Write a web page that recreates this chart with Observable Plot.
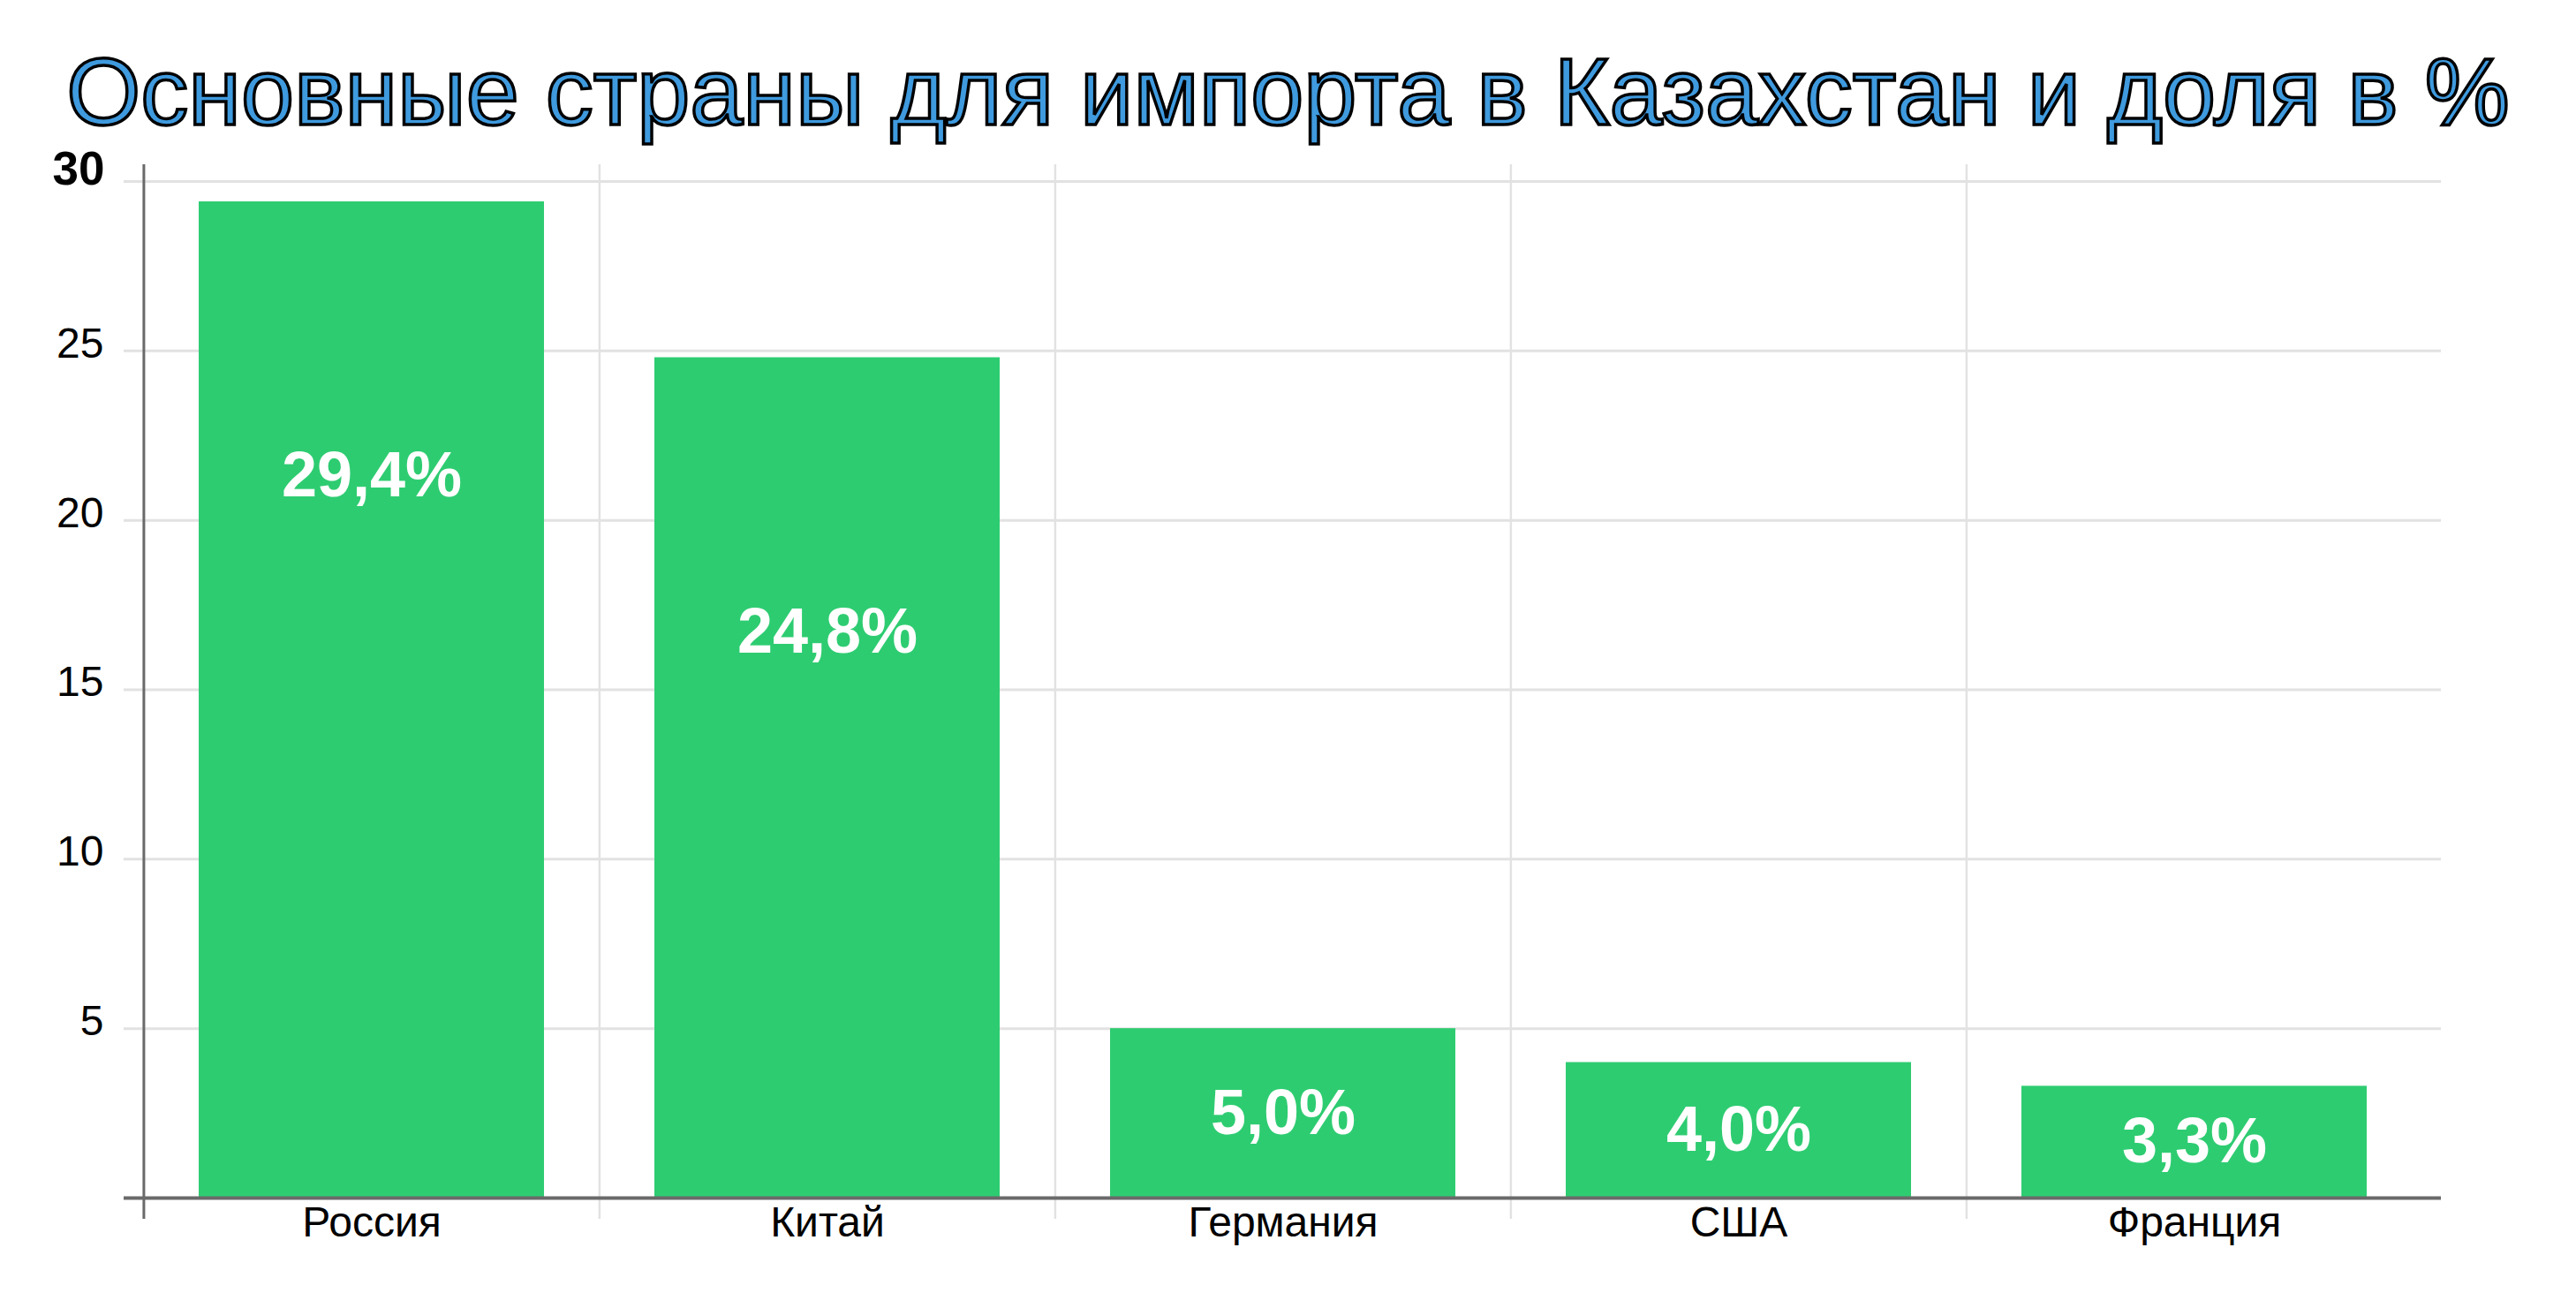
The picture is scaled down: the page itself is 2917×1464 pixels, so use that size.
<!DOCTYPE html>
<html>
<head>
<meta charset="utf-8">
<script src="https://cdn.jsdelivr.net/npm/d3@7"></script>
<script src="https://cdn.jsdelivr.net/npm/@observablehq/plot@0.6"></script>
<style>
  html, body { margin: 0; padding: 0; background: #fff; }
  body { width: 2917px; height: 1464px; overflow: hidden; position: relative; font-family: "Liberation Sans", Arial, sans-serif; }
  #title {
    position: absolute; left: 0; top: 50px; width: 2917px; margin: 0; z-index: 2;
    text-align: center; font-size: 108px; line-height: 108px; font-weight: normal;
    color: #3f9ade; -webkit-text-stroke: 3.5px #000; white-space: nowrap;
  }
  #chart { position: absolute; left: 0; top: 120px; z-index: 1; }
</style>
</head>
<body>
<h1 id="title">Основные страны для импорта в Казахстан и доля в %</h1>
<div id="chart"></div>
<script>
const countries = ["Россия", "Китай", "Германия", "США", "Франция"];
const shares = [29.4, 24.8, 5.0, 4.0, 3.3];
const yTicks = [5, 10, 15, 20, 25, 30];
const gridTicks = [0, 5, 10, 15, 20, 25, 30];

const data = countries.map((c, i) => ({country: c, value: shares[i]}));

const W = 2917, H = 1344;
const mL = 162, mR = 174, mT = 85, mB = 108;
const step = (W - mL - mR) / countries.length;

const chart = Plot.plot({
  width: W,
  height: H,
  marginLeft: mL,
  marginRight: mR,
  marginTop: mT,
  marginBottom: mB,
  style: {fontFamily: "Liberation Sans, Arial, sans-serif", fontSize: "48px", color: "#000", background: "transparent"},
  x: {type: "band", domain: countries, paddingInner: 0.243, paddingOuter: 0.1215, axis: null},
  y: {domain: [0, 30], axis: null},
  marks: [
    Plot.ruleY(gridTicks, {y: d => d, stroke: "#e2e2e2", strokeWidth: 3, insetLeft: -22, insetRight: -21}),
    Plot.ruleX(countries.slice(1), {x: d => d, dx: -step / 2, stroke: "#e2e2e2", strokeWidth: 2.5, insetTop: -19, insetBottom: -24}),
    Plot.barY(data, {x: "country", y: "value", fill: "#2ecc71"}),
    Plot.ruleX(countries.slice(0, 1), {x: d => d, dx: -step / 2, stroke: "#6a6a6a", strokeWidth: 3, insetTop: -19, insetBottom: -24}),
    Plot.ruleY([0], {y: d => d, stroke: "#6a6a6a", strokeWidth: 4, insetLeft: -22, insetRight: -21}),
    Plot.text(yTicks.filter(t => t !== 30), {y: d => d, text: d => String(d), frameAnchor: "left", textAnchor: "end", dx: -45, dy: -8, fontSize: 48, fill: "#000"}),
    Plot.text(yTicks.filter(t => t === 30), {y: d => d, text: d => String(d), frameAnchor: "left", textAnchor: "end", dx: -44, dy: -13, fontSize: 53, fontWeight: "bold", fill: "#000", letterSpacing: -2}),
    Plot.text(countries, {x: d => d, frameAnchor: "bottom", lineAnchor: "top", dy: 9, fontSize: 48, fill: "#000"}),
    Plot.text(data, {
      x: "country",
      y: d => Math.max(d.value / 2, d.value - 8.1),
      text: d => d.value.toFixed(1).replace(".", ",") + "%",
      fill: "#fff", fontWeight: "bold", fontSize: 72
    })
  ]
});
document.getElementById("chart").appendChild(chart);
</script>
</body>
</html>
